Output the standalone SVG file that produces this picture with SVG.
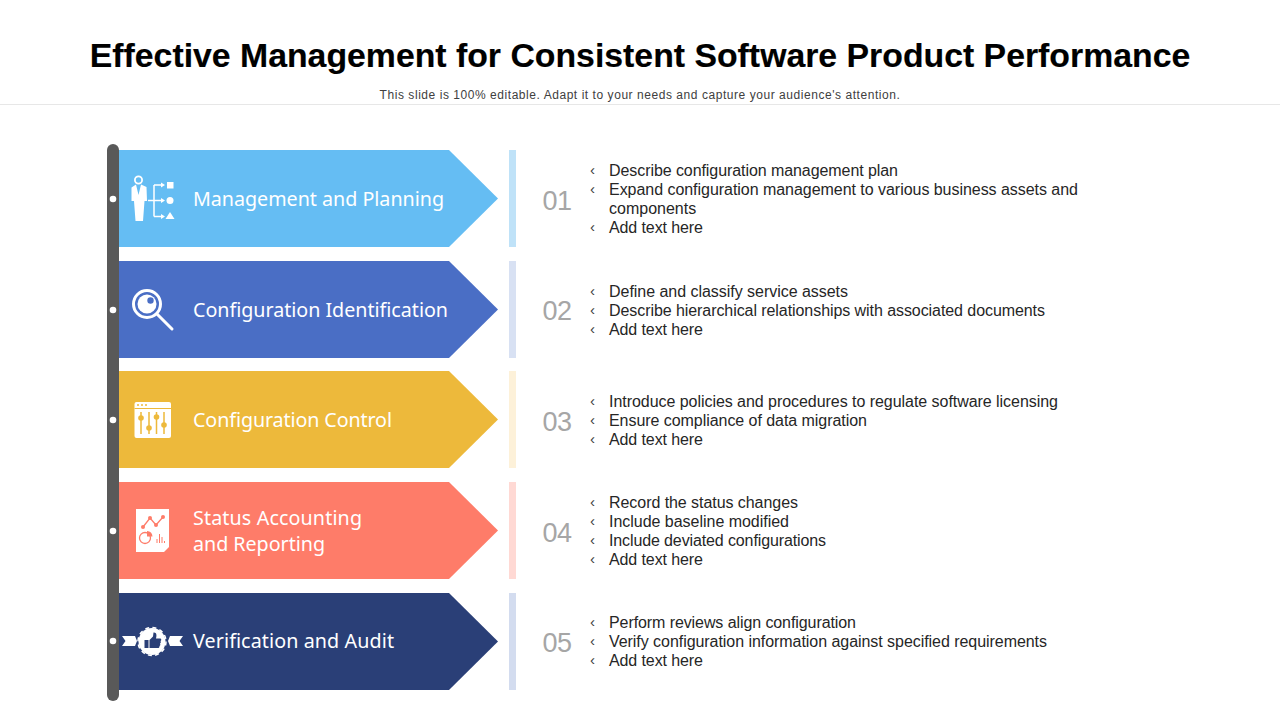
<svg xmlns="http://www.w3.org/2000/svg" width="1280" height="720" viewBox="0 0 1280 720">
<style>
text{font-family:"Liberation Sans",Arial,sans-serif}
.t{font-size:33.8px;font-weight:700;fill:#000;stroke:#000;stroke-width:.15px;text-anchor:middle}
.s{font-size:12px;fill:#404040;text-anchor:middle;letter-spacing:.55px}
.l{font-family:"Noto Sans","Open Sans",sans-serif;font-size:19.7px;fill:#fff}
.n{font-size:27px;fill:#a6a6a6;text-anchor:middle;letter-spacing:-.6px}
.b{font-size:16px;fill:#262626}
.c{font-size:15px;fill:#404040}
.w{fill:#fff}
.k{fill:none;stroke:#fff}
.d{fill:#fff}
</style>
<rect width="1280" height="720" fill="#fff"/>
<text class="t" x="640" y="67">Effective Management for Consistent Software Product Performance</text>
<text class="s" x="640" y="99">This slide is 100% editable. Adapt it to your needs and capture your audience's attention.</text>
<line x1="0" y1="104.500" x2="1280" y2="104.500" stroke="#e7e7e7"/>
<g id="connectors">
<rect x="107" y="144" width="12" height="557" rx="6" fill="#595959"/>
</g>
<g id="node1">
<path d="M119 150H449L498 198.500L449 247H119Z" fill="#65bdf3"/>
<circle class="d" cx="113" cy="199" r="3.300"/>
<g id="icon1">
<circle cx="138.500" cy="180" r="3.600" fill="none" stroke="#fff" stroke-width="1.800"/>
<path class="w" d="M131.500 187.500L136 184.500L138.500 195L141 184.500L146.500 187L147 201H144.500L143 221H135.500L134 201H131.500Z"/>
<path class="k" stroke-width="1.500" d="M148 200.500H154M154 185V216.500M154 185H162M154 200.500H162M154 216.500H162"/>
<path class="w" d="M161 182.500L165 185L161 187.500ZM161 198L165 200.500L161 203ZM161 214L165 216.500L161 219Z"/>
<rect class="w" x="167" y="182" width="6.500" height="6.500"/><circle class="w" cx="170" cy="200.500" r="3.500"/><path class="w" d="M170 212L174.500 219H165.500Z"/>
</g>
<text class="l" x="193" y="206" textLength="251">Management and Planning</text>
<rect x="509" y="150" width="7" height="97" fill="#bfe2f8"/>
<text class="n" x="557" y="210">01</text>
<text class="c" x="590" y="175">‹</text><text class="b" x="609" y="176" textLength="289">Describe configuration management plan</text>
<text class="c" x="590" y="194">‹</text><text class="b" x="609" y="195" textLength="469">Expand configuration management to various business assets and</text>
<text class="b" x="609" y="214">components</text>
<text class="c" x="590" y="232">‹</text><text class="b" x="609" y="233" textLength="94">Add text here</text>
</g>
<g id="node2">
<path d="M119 261H449L498 309.500L449 358H119Z" fill="#4a6ec5"/>
<circle class="d" cx="113" cy="310" r="3.300"/>
<g id="icon2">
<circle class="k" cx="147" cy="304" r="13.500" stroke-width="3"/>
<circle class="w" cx="147" cy="304" r="9.500"/>
<circle cx="150.500" cy="300.500" r="3.200" fill="#4a6ec5"/>
<path class="k" stroke-width="3" stroke-linecap="round" d="M157 314L172 329"/>
</g>
<text class="l" x="193" y="317" textLength="255">Configuration Identification</text>
<rect x="509" y="261" width="7" height="97" fill="#d8e1f3"/>
<text class="n" x="557" y="320">02</text>
<text class="c" x="590" y="296">‹</text><text class="b" x="609" y="297" textLength="239">Define and classify service assets</text>
<text class="c" x="590" y="315">‹</text><text class="b" x="609" y="316" textLength="436">Describe hierarchical relationships with associated documents</text>
<text class="c" x="590" y="334">‹</text><text class="b" x="609" y="335" textLength="94">Add text here</text>
</g>
<g id="node3">
<path d="M119 371H449L498 419.500L449 468H119Z" fill="#edb93b"/>
<circle class="d" cx="113" cy="420" r="3.300"/>
<g id="icon3">
<rect class="w" x="134.500" y="402" width="36.500" height="36" rx="2"/>
<path d="M134.500 408.500H171" stroke="#edb93b" stroke-width="1"/>
<circle cx="138" cy="405" r="1" fill="#edb93b"/><circle cx="142" cy="405" r="1" fill="#edb93b"/><circle cx="146" cy="405" r="1" fill="#edb93b"/>
<path d="M141 412V434M149 412V434M156.500 412V434M164 412V434" stroke="#edb93b" stroke-width="1.500"/>
<circle cx="141" cy="418" r="2.800" fill="#edb93b"/><circle cx="149" cy="428" r="2.800" fill="#edb93b"/><circle cx="156.500" cy="417" r="2.800" fill="#edb93b"/><circle cx="164" cy="425" r="2.800" fill="#edb93b"/>
</g>
<text class="l" x="193" y="427" textLength="199">Configuration Control</text>
<rect x="509" y="371" width="7" height="97" fill="#fdf1d9"/>
<text class="n" x="557" y="431">03</text>
<text class="c" x="590" y="406">‹</text><text class="b" x="609" y="407" textLength="449">Introduce policies and procedures to regulate software licensing</text>
<text class="c" x="590" y="425">‹</text><text class="b" x="609" y="426" textLength="258">Ensure compliance of data migration</text>
<text class="c" x="590" y="444">‹</text><text class="b" x="609" y="445" textLength="94">Add text here</text>
</g>
<g id="node4">
<path d="M119 482H449L498 530.500L449 579H119Z" fill="#fe7c69"/>
<circle class="d" cx="113" cy="531" r="3.300"/>
<g id="icon4">
<path class="w" d="M136 509H169V547L164 552H136Z"/>
<path fill="none" stroke="#fe7c69" stroke-width="1.300" d="M143 527L150 518L156 525L163 517"/>
<circle cx="143" cy="527" r="2" fill="#fe7c69"/><circle cx="150" cy="518" r="2" fill="#fe7c69"/><circle cx="156" cy="525" r="2" fill="#fe7c69"/><circle cx="163" cy="517" r="2" fill="#fe7c69"/>
<circle cx="145" cy="538" r="5.500" fill="none" stroke="#fe7c69" stroke-width="1.300"/>
<path d="M147 536.500V531a6 6 0 0 1 5.500 5.500Z" fill="#fe7c69"/>
<path d="M157 543V539M159.500 543V534M162 543V537M164.500 543V541" stroke="#fe7c69" stroke-width="1"/>
</g>
<text class="l" x="193" y="525" textLength="169">Status Accounting</text>
<text class="l" x="193" y="551" textLength="132">and Reporting</text>
<rect x="509" y="482" width="7" height="97" fill="#ffd9d4"/>
<text class="n" x="557" y="542">04</text>
<text class="c" x="590" y="507">‹</text><text class="b" x="609" y="508" textLength="189">Record the status changes</text>
<text class="c" x="590" y="526">‹</text><text class="b" x="609" y="527" textLength="180">Include baseline modified</text>
<text class="c" x="590" y="545">‹</text><text class="b" x="609" y="546" textLength="217">Include deviated configurations</text>
<text class="c" x="590" y="564">‹</text><text class="b" x="609" y="565" textLength="94">Add text here</text>
</g>
<g id="node5">
<path d="M119 593H449L498 641.500L449 690H119Z" fill="#2a3f77"/>
<circle class="d" cx="113" cy="641" r="3.300"/>
<g id="icon5">
<path class="w" d="M122 636H135L137 641L135 646H122L125.500 641Z"/>
<path class="w" d="M183 636H170L168 641L170 646H183L179.500 641Z"/>
<circle class="w" cx="152" cy="641.500" r="13.500"/>
<circle cx="152" cy="641.500" r="14" fill="none" stroke="#fff" stroke-width="1.500" stroke-dasharray="4 3.330"/>
<path d="M144.500 640H148.500V648H144.500ZM149.500 640L153 636.500L153.500 632.500C156.500 632 157 635 156 638.500H160.500C161.500 639 161.500 640.500 160.500 641C161 642 161 643 160 643.500C160.500 644.500 160.500 645.500 159.500 646C159.500 647.500 159 648 158 648H149.500Z" fill="#2a3f77"/>
</g>
<text class="l" x="193" y="648" textLength="201">Verification and Audit</text>
<rect x="509" y="593" width="7" height="97" fill="#d3dcef"/>
<text class="n" x="557" y="652">05</text>
<text class="c" x="590" y="627">‹</text><text class="b" x="609" y="628" textLength="247">Perform reviews align configuration</text>
<text class="c" x="590" y="646">‹</text><text class="b" x="609" y="647" textLength="438">Verify configuration information against specified requirements</text>
<text class="c" x="590" y="665">‹</text><text class="b" x="609" y="666" textLength="94">Add text here</text>
</g>
</svg>
